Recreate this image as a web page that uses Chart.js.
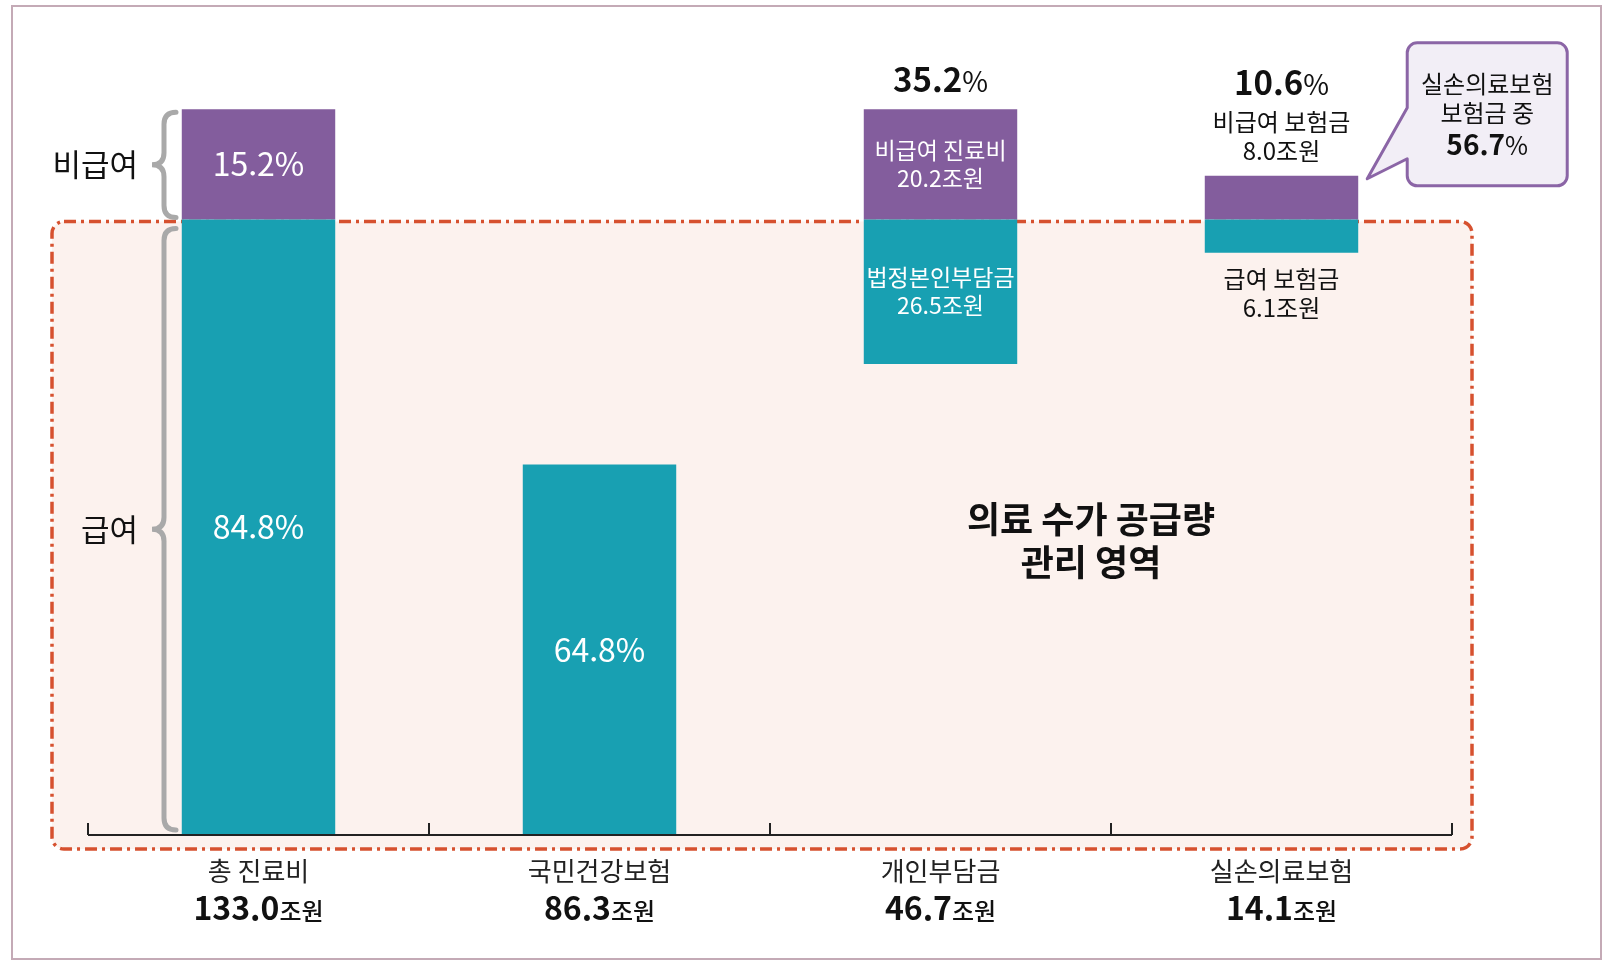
<!DOCTYPE html>
<html lang="ko">
<head>
<meta charset="utf-8">
<title>의료비 구조</title>
<script src="https://cdn.jsdelivr.net/npm/chart.js@4"></script>
<style>
  html, body { margin: 0; padding: 0; background: #fff; }
  canvas { display: block; }
</style>
</head>
<body>
<canvas id="chart" width="1614" height="968"></canvas>
<script>
// Categories and their totals (조원)
const categories = ['총 진료비', '국민건강보험', '개인부담금', '실손의료보험'];
const totals = ['133.0', '86.3', '46.7', '14.1'];

// Floating spans [from, to] in 조원, as drawn in the picture
// 급여 part (teal) and 비급여 part (purple)
const benefitSpan = [[0, 112.8], [0, 67.9], [86.3, 112.8], [106.7, 112.8]];
const nonBenefitSpan = [[112.8, 133.0], null, [112.8, 133.0], [112.8, 120.8]];

// Texts inside the bars
const benefitText = [['84.8%'], ['64.8%'], ['법정본인부담금', '26.5조원'], []];
const nonBenefitText = [['15.2%'], [], ['비급여 진료비', '20.2조원'], []];

// Texts outside the bars
const topShare = [null, null, '35.2', '10.6'];
const aboveText = [[], [], [], ['비급여 보험금', '8.0조원']];
const belowText = [[], [], [], ['급여 보험금', '6.1조원']];
const calloutLines = ['실손의료보험', '보험금 중'];
const calloutShare = '56.7';
const regionLines = ['의료 수가 공급량', '관리 영역'];

const KR = '"Noto Sans CJK KR", "Noto Sans", sans-serif';
const PURPLE = '#835d9d',
    TEAL = '#18a0b2',
    DASH = '#d6512f',
    PINK = '#fcf2ee';

Chart.defaults.font.family = KR;

function roundRectPath(ctx, x, y, w, h, r) {
    ctx.beginPath();
    ctx.moveTo(x + r, y);
    ctx.arcTo(x + w, y, x + w, y + h, r);
    ctx.arcTo(x + w, y + h, x, y + h, r);
    ctx.arcTo(x, y + h, x, y, r);
    ctx.arcTo(x, y, x + w, y, r);
    ctx.closePath();
}

function brace(ctx, x, top, bottom, w) {
    const mid = (top + bottom) / 2;
    ctx.beginPath();
    ctx.moveTo(x + w, top);
    ctx.quadraticCurveTo(x, top, x, top + w);
    ctx.lineTo(x, mid - w);
    ctx.quadraticCurveTo(x, mid, x - w, mid);
    ctx.quadraticCurveTo(x, mid, x, mid + w);
    ctx.lineTo(x, bottom - w);
    ctx.quadraticCurveTo(x, bottom, x + w, bottom);
    ctx.stroke();
}

function text(ctx, s, x, y, font, color, align) {
    ctx.font = font;
    ctx.fillStyle = color;
    ctx.textAlign = align || 'center';
    ctx.textBaseline = 'middle';
    ctx.fillText(s, x, y);
}

// several pieces with different fonts, centred as one
function mixed(ctx, parts, x, y) {
    let total = 0;
    parts.forEach(p => { ctx.font = p[1]; total += ctx.measureText(p[0]).width; });
    let cx = x - total / 2;
    parts.forEach(p => {
        ctx.font = p[1];
        ctx.fillStyle = p[2];
        ctx.textAlign = 'left';
        ctx.textBaseline = 'alphabetic';
        ctx.fillText(p[0], cx, y);
        cx += ctx.measureText(p[0]).width;
    });
}

function span(el) {
    return { top: Math.min(el.y, el.base), bottom: Math.max(el.y, el.base) };
}

const decor = {
    id: 'decor',
    beforeDatasetsDraw(chart) {
        const ctx = chart.ctx, area = chart.chartArea, y = chart.scales.y;
        ctx.save();
        // outer frame
        ctx.strokeStyle = '#c4aab6';
        ctx.lineWidth = 2;
        ctx.strokeRect(12, 6, 1589, 953);

        // 관리 영역 box
        const left = area.left - 36, top = y.getPixelForValue(112.8) + 2;
        const right = area.right + 20, bottom = area.bottom + 14;
        roundRectPath(ctx, left, top, right - left, bottom - top, 12);
        ctx.fillStyle = PINK;
        ctx.fill();
        ctx.setLineDash([12, 5, 3, 5]);
        ctx.strokeStyle = DASH;
        ctx.lineWidth = 3.5;
        ctx.stroke();
        ctx.restore();
    },
    afterDatasetsDraw(chart) {
        const ctx = chart.ctx, area = chart.chartArea;
        const x = chart.scales.x, y = chart.scales.y;
        const teal = chart.getDatasetMeta(0).data;
        const purple = chart.getDatasetMeta(1).data;
        ctx.save();

        // axis line with upward ticks at category borders
        const catW = x.getPixelForValue(1) - x.getPixelForValue(0);
        const x0 = x.getPixelForValue(0) - catW / 2;
        ctx.strokeStyle = '#222';
        ctx.lineWidth = 2;
        ctx.beginPath();
        ctx.moveTo(x0, area.bottom);
        ctx.lineTo(x0 + catW * categories.length, area.bottom);
        for (let i = 0; i <= categories.length; i++) {
            ctx.moveTo(x0 + catW * i, area.bottom);
            ctx.lineTo(x0 + catW * i, area.bottom - 12);
        }
        ctx.stroke();

        // category labels
        categories.forEach((c, i) => {
            const cx = x.getPixelForValue(i);
            text(ctx, c, cx, area.bottom + 36, '400 26px ' + KR, '#222');
            mixed(ctx, [[totals[i], 'bold 32px ' + KR, '#111'],
                        ['조원', '500 24px ' + KR, '#111']], cx, area.bottom + 85);
        });

        // braces on the left
        const bx = area.left + 76;
        ctx.strokeStyle = '#a9a9a9';
        ctx.lineWidth = 5;
        ctx.lineCap = 'round';
        brace(ctx, bx, y.getPixelForValue(133.0) + 3, y.getPixelForValue(112.8) - 2, 12);
        brace(ctx, bx, y.getPixelForValue(112.8) + 9, area.bottom - 5, 12);
        text(ctx, '비급여', bx - 26, (y.getPixelForValue(133.0) + y.getPixelForValue(112.8)) / 2,
            '400 31px ' + KR, '#111', 'right');
        text(ctx, '급여', bx - 26, (y.getPixelForValue(112.8) + area.bottom) / 2 + 2,
            '400 31px ' + KR, '#111', 'right');

        // texts inside bars
        const inner = (el, lines) => {
            if (!el || !lines.length) return;
            const s = span(el), mid = (s.top + s.bottom) / 2;
            const big = lines.length === 1;
            lines.forEach((l, k) => {
                const ly = mid + (k - (lines.length - 1) / 2) * 28;
                text(ctx, l, el.x, ly, big ? '400 32px ' + KR : '400 23px ' + KR, '#fff');
            });
        };
        categories.forEach((c, i) => {
            inner(teal[i], benefitText[i]);
            if (nonBenefitSpan[i]) inner(purple[i], nonBenefitText[i]);
        });

        // texts above / below bars
        categories.forEach((c, i) => {
            const topEl = nonBenefitSpan[i] ? purple[i] : teal[i];
            let ty = span(topEl).top;
            const cx = topEl.x;
            const lines = aboveText[i].slice().reverse();
            lines.forEach((l, k) => {
                ty = span(topEl).top - 25 - k * 29;
                text(ctx, l, cx, ty, '400 24px ' + KR, '#111');
            });
            if (topShare[i]) {
                const py = lines.length ? ty - 39 : ty - 29;
                mixed(ctx, [[topShare[i], 'bold 33px ' + KR, '#111'],
                            ['%', '400 28px ' + KR, '#111']], cx, py + 12);
            }
            const bottomY = span(teal[i]).bottom;
            belowText[i].forEach((l, k) => {
                text(ctx, l, teal[i].x, bottomY + 26 + k * 29, '400 24px ' + KR, '#111');
            });
        });

        // callout next to 실손의료보험 bar
        const el = purple[3];
        const tipX = el.x + el.width / 2 + 9, tipY = span(el).top + 3;
        const L = tipX + 40, T = tipY - 136, W = 160, H = 143, r = 10;
        ctx.beginPath();
        ctx.moveTo(L + r, T);
        ctx.arcTo(L + W, T, L + W, T + H, r);
        ctx.arcTo(L + W, T + H, L, T + H, r);
        ctx.arcTo(L, T + H, L, T, r);
        ctx.lineTo(L, tipY - 20);
        ctx.lineTo(tipX, tipY);
        ctx.lineTo(L, tipY - 71);
        ctx.arcTo(L, T, L + W, T, r);
        ctx.closePath();
        ctx.fillStyle = '#f2eef6';
        ctx.fill();
        ctx.strokeStyle = '#8b65a6';
        ctx.lineWidth = 3;
        ctx.lineJoin = 'round';
        ctx.stroke();
        calloutLines.forEach((l, k) => {
            text(ctx, l, L + W / 2, T + 41 + k * 29, '400 24px ' + KR, '#111');
        });
        mixed(ctx, [[calloutShare, 'bold 28px ' + KR, '#111'],
                    ['%', '400 25px ' + KR, '#111']], L + W / 2, T + 112);

        // region caption
        const rx = area.left + 1003, ry = y.getPixelForValue(54);
        regionLines.forEach((l, k) => {
            text(ctx, l, rx, ry + (k - 0.5) * 43, 'bold 36px ' + KR, '#111');
        });
        ctx.restore();
    }
};

new Chart(document.getElementById('chart'), {
    type: 'bar',
    data: {
        labels: categories,
        datasets: [
            {
                label: '급여',
                data: benefitSpan,
                backgroundColor: TEAL,
                borderWidth: 0,
                barPercentage: 0.45,
                categoryPercentage: 1
            },
            {
                label: '비급여',
                data: nonBenefitSpan,
                backgroundColor: PURPLE,
                borderWidth: 0,
                barPercentage: 0.45,
                categoryPercentage: 1
            }
        ]
    },
    options: {
        responsive: false,
        animation: false,
        devicePixelRatio: 1,
        layout: { padding: { top: 71, bottom: 133, left: 88, right: 162 } },
        plugins: { legend: { display: false }, tooltip: { enabled: false } },
        scales: {
            x: { display: false, stacked: true },
            y: { display: false, stacked: false, min: 0, max: 140 }
        }
    },
    plugins: [decor]
});
</script>
</body>
</html>
